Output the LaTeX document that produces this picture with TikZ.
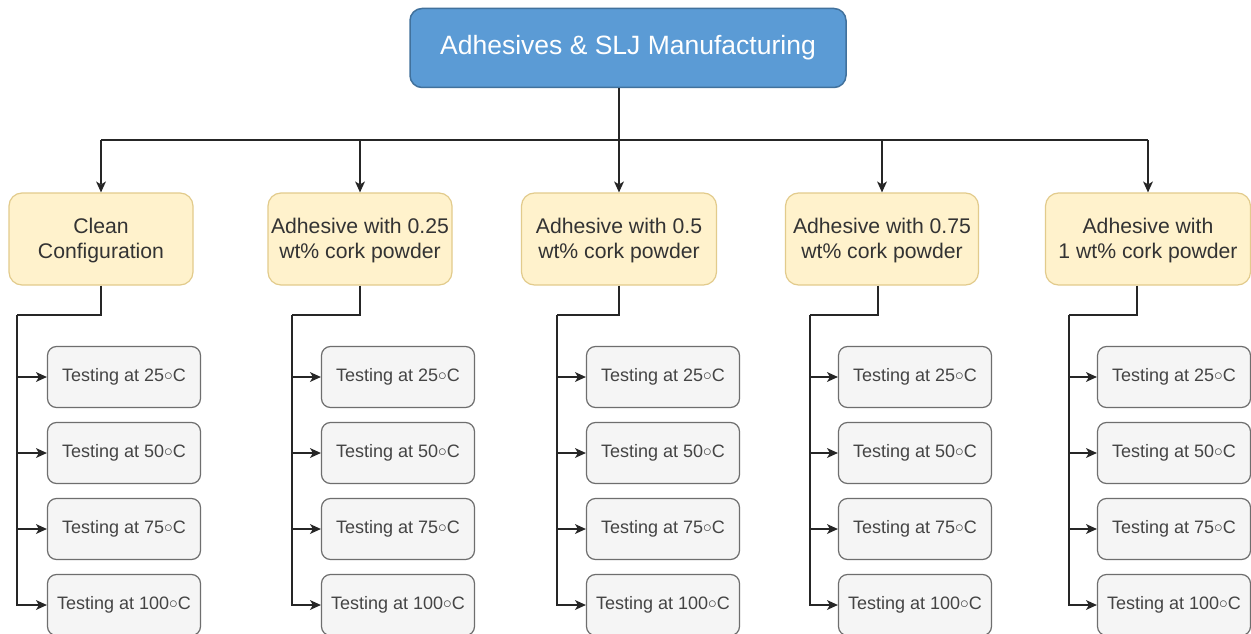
\documentclass[tikz,border=0pt]{standalone}
\usepackage{fontspec}
\setmainfont{Liberation Sans}
\usetikzlibrary{arrows.meta,calc}
\definecolor{topfill}{HTML}{5B9BD5}
\definecolor{topdraw}{HTML}{41719C}
\definecolor{catfill}{HTML}{FFF2CC}
\definecolor{catdraw}{HTML}{E2CB8C}
\definecolor{testfill}{HTML}{F5F5F5}
\definecolor{testdraw}{HTML}{6E6E6E}
\definecolor{testtext}{HTML}{444444}
\definecolor{cattext}{HTML}{333333}
\definecolor{linecol}{HTML}{262626}
\newcommand{\dg}{\raisebox{1.5pt}{$\circ$}}
\tikzset{
  topbox/.style={draw=topdraw, fill=topfill, line width=1.5pt, rounded corners=12pt,
    minimum width=436pt, minimum height=79pt, text=white, inner sep=0pt,
    font=\fontsize{26.5}{30}\selectfont},
  catbox/.style={draw=catdraw, fill=catfill, line width=1.2pt, rounded corners=13pt,
    minimum height=92pt, text=cattext, inner sep=0pt, align=center,
    font=\fontsize{21.2}{25}\selectfont},
  testbox/.style={draw=testdraw, fill=testfill, line width=1.2pt, rounded corners=9pt,
    minimum width=153pt, minimum height=61pt, text=testtext, inner sep=0pt,
    font=\fontsize{18}{21}\selectfont},
  conn/.style={draw=linecol, line width=1.8pt},
  arr/.style={draw=linecol, line width=1.8pt,
    arrows={-Stealth[length=11pt,width=10pt,inset=3pt,line width=0pt,fill=linecol]}}
}
\begin{document}
\begin{tikzpicture}[x=1pt,y=-1pt]
\useasboundingbox (0,0) rectangle (1251,634);
\fill[white] (0,0) rectangle (1251,634);

\node[topbox] (top) at (628,48) {Adhesives \& SLJ Manufacturing};

\node[catbox, minimum width=184pt] (c1) at (101,239) {\rule{0pt}{18pt}Clean\\Configuration};
\node[catbox, minimum width=184pt] (c2) at (360,239) {\rule{0pt}{18pt}Adhesive with 0.25\\wt\% cork powder};
\node[catbox, minimum width=195pt] (c3) at (619,239) {\rule{0pt}{18pt}Adhesive with 0.5\\wt\% cork powder};
\node[catbox, minimum width=193pt] (c4) at (882,239) {\rule{0pt}{18pt}Adhesive with 0.75\\wt\% cork powder};
\node[catbox, minimum width=205pt] (c5) at (1148,239) {\rule{0pt}{18pt}Adhesive with\\1 wt\% cork powder};

\coordinate (bus) at (619,140);
\draw[conn] (top.south -| bus) -- (bus);
\draw[conn, line width=2.2pt] (bus -| c1) -- (bus -| c5);
\foreach \c in {c1,c2,c3,c4,c5}{
  \draw[arr] (bus -| \c) -- (\c.north);
}

% test boxes
\foreach \i/\cx in {1/124, 2/398, 3/663, 4/915, 5/1174}{
  \node[testbox] (t\i1) at (\cx,377) {Testing at 25\dg C};
  \node[testbox] (t\i2) at (\cx,453) {Testing at 50\dg C};
  \node[testbox] (t\i3) at (\cx,529) {Testing at 75\dg C};
  \node[testbox] (t\i4) at (\cx,605) {Testing at 100\dg C};
}

\coordinate (tr1) at (17,315);
\coordinate (tr2) at (292,315);
\coordinate (tr3) at (557,315);
\coordinate (tr4) at (810,315);
\coordinate (tr5) at (1069,315);

\draw[conn] (c1.south) |- (tr1);
\draw[conn] (c2.south) |- (tr2);
\draw[conn] (c3.south) |- (tr3);
\draw[conn] ([xshift=-4pt]c4.south) |- (tr4);
\draw[conn] ([xshift=-11pt]c5.south) |- (tr5);

\foreach \i in {1,2,3,4,5}{
  \draw[arr] (tr\i) |- (t\i4.west);
  \foreach \k in {1,2,3}{
    \draw[arr] (tr\i |- t\i\k.west) -- (t\i\k.west);
  }
}
\end{tikzpicture}
\end{document}
